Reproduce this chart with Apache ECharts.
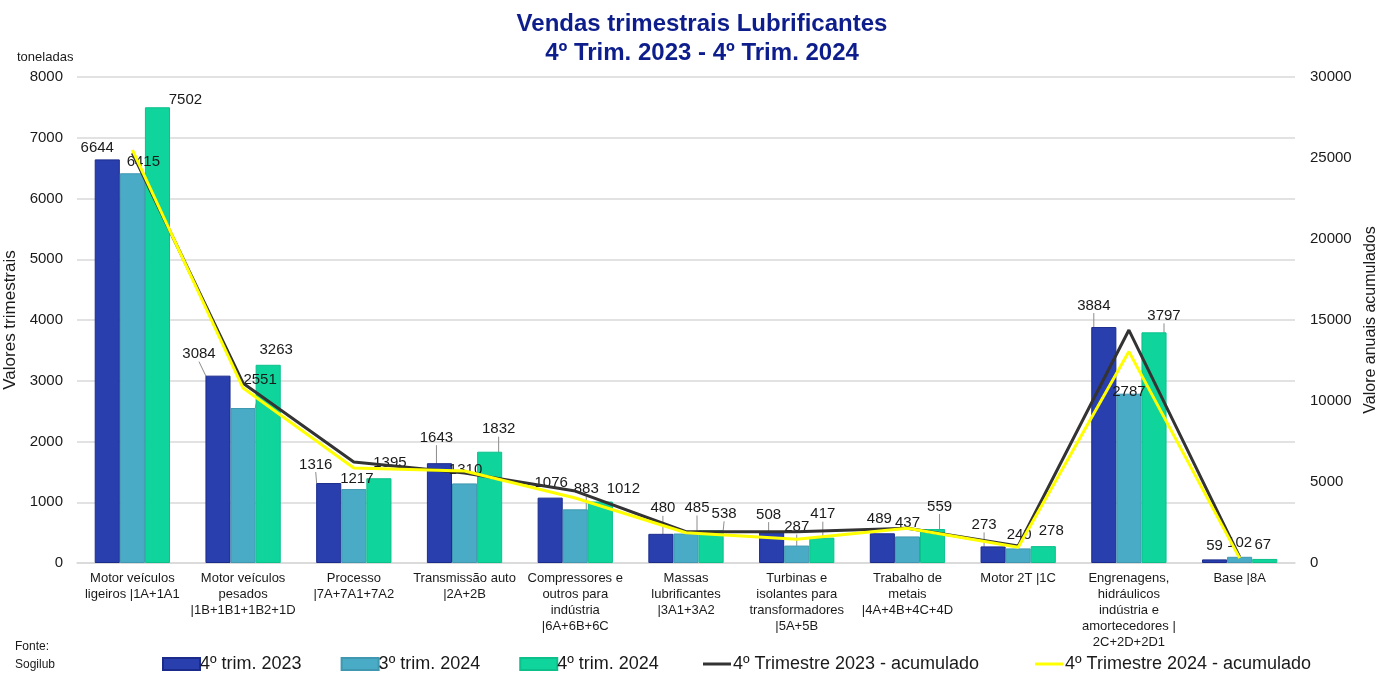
<!DOCTYPE html>
<html>
<head>
<meta charset="utf-8">
<script src="https://cdn.jsdelivr.net/npm/echarts@6/dist/echarts.min.js"></script>
<style>
  html, body { margin: 0; padding: 0; background: #fff; }
  #chart { width: 1389px; height: 673px; }
</style>
</head>
<body>
<div id="chart"></div>
<script>
// categorias (eixo x)
var categorias = [
  'Motor veículos\nligeiros |1A+1A1',
  'Motor veículos\npesados\n|1B+1B1+1B2+1D',
  'Processo\n|7A+7A1+7A2',
  'Transmissão auto\n|2A+2B',
  'Compressores e\noutros para\nindústria\n|6A+6B+6C',
  'Massas\nlubrificantes\n|3A1+3A2',
  'Turbinas e\nisolantes para\ntransformadores\n|5A+5B',
  'Trabalho de\nmetais\n|4A+4B+4C+4D',
  'Motor 2T |1C',
  'Engrenagens,\nhidráulicos\nindústria e\namortecedores |\n2C+2D+2D1',
  'Base |8A'
];
// vendas trimestrais (toneladas)
var trim4_2023 = [6644, 3084, 1316, 1643, 1076, 480, 508, 489, 273, 3884, 59];
var trim3_2024 = [6415, 2551, 1217, 1310, 883, 485, 287, 437, 240, 2787, 102];
var trim4_2024 = [7502, 3263, 1395, 1832, 1012, 538, 417, 559, 278, 3797, 67];
// valores anuais acumulados
var acum_2023 = [25300, 11100, 6240, 5560, 4440, 1930, 1930, 2140, 1050, 14380, 380];
var acum_2024 = [25500, 10800, 5860, 5680, 4010, 1870, 1460, 2150, 970, 13050, 300];
// marcas dos eixos
var ticksEsq = { min: 0, max: 8000, interval: 1000 };
var ticksDir = { min: 0, max: 30000, interval: 5000 };

// ajuste manual dos rótulos (como no Excel) [dx, dy] e linhas guia
var ajusteRotulos = [
  [[-10,0],[-19,-10],[-13,-7],[-3,-14],[1,-3],[2,-14],[-3,-6],[-3,-3],[-9,-10],[-10,-10],[0,-2]],
  [[11,0],[17,-17],[3,1],[1,-2],[11,-9],[11,-14],[0,-7],[0,-2],[1,-2],[0,10],[0,-2]],
  [[28,4],[8,-3],[11,-4],[9,-11],[23,-1],[13,-5],[1,-12],[7,-11],[8,-4],[10,-5],[-2,-3]]
];
var linhasGuia = [
  [0,1,1,1,0,1,1,0,1,1,0],
  [0,1,0,0,1,1,1,0,0,0,0],
  [0,0,0,1,0,1,1,1,0,1,0]
];

var fonte = 'Liberation Sans, Arial, sans-serif';
var chart = echarts.init(document.getElementById('chart'));

function barra(nome, dados, cor, borda, idx) {
  return {
    name: nome,
    type: 'bar',
    data: dados.map(function (v, i) {
      return { value: v, labelLine: { show: !!linhasGuia[idx][i] } };
    }),
    yAxisIndex: 0,
    barGap: '0%',
    barCategoryGap: '32%',
    itemStyle: { color: cor, borderColor: borda, borderWidth: 1 },
    label: {
      show: true,
      position: 'top',
      distance: 4,
      color: '#1a1a1a',
      fontSize: 15,
      fontFamily: fonte
    },
    labelLine: { show: false, lineStyle: { color: '#8c8c8c', width: 1 } },
    labelLayout: function (p) {
      var a = ajusteRotulos[idx][p.dataIndex];
      return { dx: a[0], dy: a[1] };
    },
    z: 2
  };
}

function linha(nome, dados, cor) {
  return {
    name: nome,
    type: 'line',
    data: dados,
    yAxisIndex: 1,
    symbol: 'none',
    showSymbol: false,
    lineStyle: { color: cor, width: 3 },
    itemStyle: { color: cor },
    z: 3
  };
}

var iconeLinha = 'path://M0,0M0,4.5h28v3h-28zM28,12';

var option = {
  animation: false,
  backgroundColor: '#fff',
  textStyle: { fontFamily: fonte },
  title: [
    {
      text: 'Vendas trimestrais Lubrificantes\n4º Trim. 2023 - 4º Trim. 2024',
      left: 697,
      textAlign: 'center',
      top: 5,
      textStyle: { color: '#0d1e8c', fontSize: 24, fontWeight: 'bold', lineHeight: 29, fontFamily: fonte }
    },
    {
      text: 'toneladas',
      left: 12,
      top: 46,
      textStyle: { color: '#1a1a1a', fontSize: 13, fontWeight: 'normal', fontFamily: fonte }
    },
    {
      text: 'Fonte:\nSogilub',
      left: 10,
      top: 633,
      textStyle: { color: '#1a1a1a', fontSize: 12, fontWeight: 'normal', lineHeight: 18, fontFamily: fonte }
    }
  ],
  grid: { left: 77, right: 94, top: 77, bottom: 110, outerBoundsMode: 'none' },
  legend: [
    {
      left: 162,
      top: 655,
      padding: 0,
      itemWidth: 37,
      itemHeight: 12,
      itemGap: 39,
      textStyle: { fontSize: 18, color: '#1a1a1a', fontFamily: fonte, padding: [0, 0, 0, -5] },
      data: [
        { name: '4º trim. 2023', icon: 'rect' },
        { name: '3º trim. 2024', icon: 'rect' },
        { name: '4º trim. 2024', icon: 'rect' }
      ]
    },
    {
      left: 703,
      top: 655,
      padding: 0,
      itemWidth: 28,
      itemHeight: 12,
      itemGap: 56,
      textStyle: { fontSize: 18, color: '#1a1a1a', fontFamily: fonte, padding: [0, 0, 0, -3] },
      data: [
        { name: '4º Trimestre 2023 - acumulado', icon: iconeLinha },
        { name: '4º Trimestre 2024 - acumulado', icon: iconeLinha }
      ]
    }
  ],
  xAxis: {
    type: 'category',
    data: categorias,
    axisLine: { lineStyle: { color: '#d9d9d9', width: 1.5 } },
    axisTick: { show: false },
    axisLabel: {
      interval: 0,
      color: '#1a1a1a',
      fontSize: 13,
      lineHeight: 16,
      margin: 7,
      fontFamily: fonte
    }
  },
  yAxis: [
    {
      type: 'value',
      min: ticksEsq.min,
      max: ticksEsq.max,
      interval: ticksEsq.interval,
      name: 'Valores trimestrais',
      nameLocation: 'middle',
      nameGap: 54,
      nameTextStyle: { fontSize: 17, color: '#1a1a1a', fontFamily: fonte },
      axisLine: { show: false },
      axisTick: { show: false },
      axisLabel: { color: '#1a1a1a', fontSize: 15, margin: 14, fontFamily: fonte, formatter: function (v) { return String(v); } },
      splitLine: { lineStyle: { color: '#d9d9d9', width: 1.5 } }
    },
    {
      type: 'value',
      min: ticksDir.min,
      max: ticksDir.max,
      interval: ticksDir.interval,
      name: 'Valore anuais acumulados',
      nameLocation: 'middle',
      nameGap: 62,
      nameRotate: 90,
      nameTextStyle: { fontSize: 16, color: '#1a1a1a', fontFamily: fonte },
      axisLine: { show: false },
      axisTick: { show: false },
      axisLabel: { color: '#1a1a1a', fontSize: 15, margin: 15, fontFamily: fonte, formatter: function (v) { return String(v); } },
      splitLine: { show: false }
    }
  ],
  series: [
    barra('4º trim. 2023', trim4_2023, '#2a3fae', '#1b2b8c', 0),
    barra('3º trim. 2024', trim3_2024, '#4aabc6', '#3f97b0', 1),
    barra('4º trim. 2024', trim4_2024, '#0fd49b', '#0cc08c', 2),
    linha('4º Trimestre 2023 - acumulado', acum_2023, '#333333'),
    linha('4º Trimestre 2024 - acumulado', acum_2024, '#ffff00')
  ]
};

chart.setOption(option);
</script>
</body>
</html>
